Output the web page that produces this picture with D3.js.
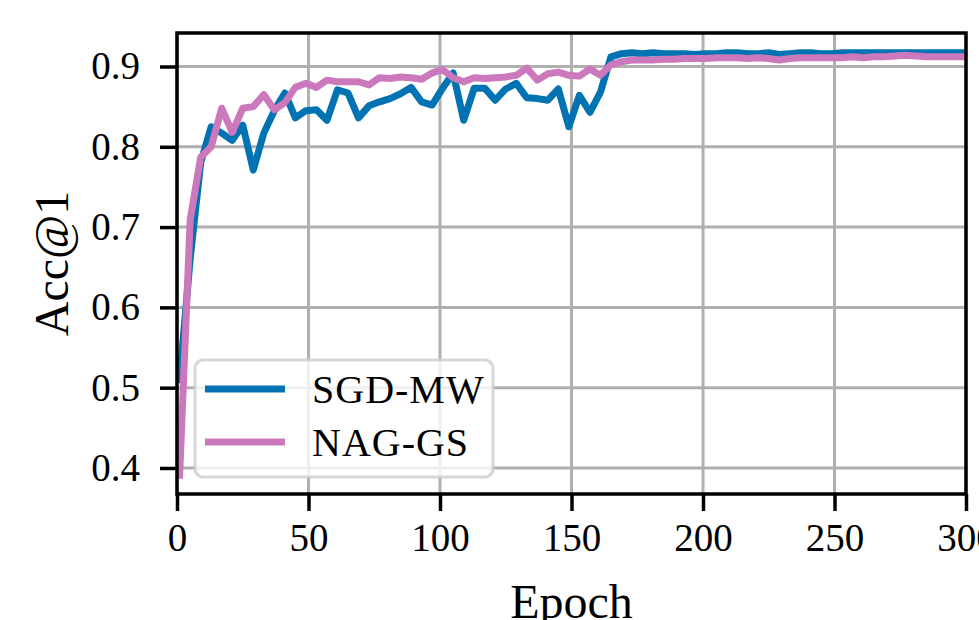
<!DOCTYPE html>
<html>
  <head>
    <meta charset="utf-8" />
    <title>Acc@1 vs Epoch</title>
    <style>
      body { margin: 0; background: #fff; }
      svg { display: block; }
      text { font-family: "Liberation Serif", "DejaVu Serif", serif; fill: #000; }
    </style>
  </head>
  <body>
    <svg width="979" height="620"></svg>

    <script type="text/javascript" src="https://d3js.org/d3.v7.min.js"></script>
    <script type="text/javascript">
      // epochs sampled every 4
      const epochs = [1, 5, 9, 13, 17, 21, 25, 29, 33, 37, 41, 45, 49, 53, 57, 61, 65, 69, 73, 77,
        81, 85, 89, 93, 97, 101, 105, 109, 113, 117, 121, 125, 129, 133, 137, 141, 145, 149, 153, 157,
        161, 165, 169, 173, 177, 181, 185, 189, 193, 197, 201, 205, 209, 213, 217, 221, 225, 229, 233, 237,
        241, 245, 249, 253, 257, 261, 265, 269, 273, 277, 281, 285, 289, 293, 297, 301];

      const sgdMW = [0.51, 0.66, 0.78, 0.825, 0.817, 0.808, 0.827, 0.771, 0.817, 0.845,
        0.867, 0.836, 0.845, 0.846, 0.833, 0.871, 0.867, 0.836, 0.851, 0.856,
        0.86, 0.866, 0.874, 0.856, 0.852, 0.873, 0.892, 0.833, 0.873, 0.873,
        0.858, 0.872, 0.879, 0.861, 0.86, 0.858, 0.872, 0.825, 0.864, 0.843,
        0.868, 0.912, 0.916, 0.917, 0.916, 0.917, 0.916, 0.916, 0.916, 0.915,
        0.916, 0.916, 0.917, 0.917, 0.916, 0.916, 0.917, 0.915, 0.916, 0.917,
        0.917, 0.916, 0.916, 0.917, 0.917, 0.917, 0.917, 0.917, 0.917, 0.917,
        0.917, 0.917, 0.917, 0.917, 0.917, 0.917];

      const nagGS = [0.391, 0.709, 0.787, 0.8, 0.848, 0.818, 0.848, 0.85, 0.865, 0.846,
        0.855, 0.874, 0.879, 0.874, 0.883, 0.881, 0.881, 0.881, 0.877, 0.886,
        0.885, 0.887, 0.886, 0.884, 0.892, 0.896, 0.886, 0.881, 0.886, 0.885,
        0.886, 0.887, 0.889, 0.898, 0.883, 0.891, 0.893, 0.889, 0.888, 0.897,
        0.889, 0.902, 0.906, 0.908, 0.908, 0.908, 0.909, 0.909, 0.91, 0.91,
        0.91, 0.911, 0.911, 0.911, 0.91, 0.911, 0.91, 0.908, 0.91, 0.911,
        0.911, 0.911, 0.911, 0.911, 0.912, 0.911, 0.912, 0.912, 0.913, 0.914,
        0.913, 0.912, 0.912, 0.912, 0.912, 0.912];

      const xTicks = [0, 50, 100, 150, 200, 250, 300];
      const yTicks = [0.4, 0.5, 0.6, 0.7, 0.8, 0.9];
      const seriesNames = ["SGD-MW", "NAG-GS"];
      const seriesColors = ["#0173b2", "#cc78bc"];

      const svg = d3.select("svg");
      const plotL = 177, plotR = 966, plotT = 33, plotB = 494;

      const x = d3.scaleLinear().domain([0, 300]).range([plotL, plotR]);
      const y = d3.scaleLinear().domain([0.3676, 0.9417]).range([plotB, plotT]);

      svg.append("defs").append("clipPath").attr("id", "plot-clip")
        .append("rect")
        .attr("x", plotL).attr("y", plotT)
        .attr("width", plotR - plotL).attr("height", plotB - plotT);

      // grid
      const grid = svg.append("g");
      grid.selectAll(".gx").data(xTicks).enter().append("line")
        .attr("x1", d => x(d)).attr("x2", d => x(d))
        .attr("y1", plotT).attr("y2", plotB)
        .attr("stroke", "#b0b0b0").attr("stroke-width", 3);
      grid.selectAll(".gy").data(yTicks).enter().append("line")
        .attr("x1", plotL).attr("x2", plotR)
        .attr("y1", d => y(d)).attr("y2", d => y(d))
        .attr("stroke", "#b0b0b0").attr("stroke-width", 3);

      // lines
      const line = d3.line().x(d => x(d[0])).y(d => y(d[1]));
      const plot = svg.append("g").attr("clip-path", "url(#plot-clip)");
      [sgdMW, nagGS].forEach((vals, i) => {
        plot.append("path")
          .datum(epochs.map((e, j) => [e, vals[j]]))
          .attr("d", line)
          .attr("fill", "none")
          .attr("stroke", seriesColors[i])
          .attr("stroke-width", 7)
          .attr("stroke-linejoin", "round")
          .attr("stroke-linecap", "square");
      });

      // axes
      const xAxis = svg.append("g")
        .attr("transform", "translate(0," + plotB + ")")
        .call(d3.axisBottom(x).tickValues(xTicks).tickFormat(d3.format("d"))
          .tickSizeInner(17).tickSizeOuter(0).tickPadding(12));
      const yAxis = svg.append("g")
        .attr("transform", "translate(" + plotL + ",0)")
        .call(d3.axisLeft(y).tickValues(yTicks).tickFormat(d3.format(".1f"))
          .tickSizeInner(17).tickSizeOuter(0).tickPadding(20));
      [xAxis, yAxis].forEach(a => {
        a.select(".domain").remove();
        a.selectAll(".tick line").attr("stroke", "#000").attr("stroke-width", 3.5);
        a.selectAll(".tick text").attr("font-size", 39)
          .attr("font-family", "Liberation Serif, DejaVu Serif, serif");
      });

      // spines
      svg.append("rect")
        .attr("x", plotL).attr("y", plotT)
        .attr("width", plotR - plotL).attr("height", plotB - plotT)
        .attr("fill", "none").attr("stroke", "#000").attr("stroke-width", 3.5);

      // axis labels
      svg.append("text")
        .attr("x", (plotL + plotR) / 2).attr("y", 618)
        .attr("text-anchor", "middle").attr("font-size", 48)
        .text("Epoch");
      svg.append("text")
        .attr("transform", "translate(68," + (plotT + plotB) / 2 + ") rotate(-90)")
        .attr("text-anchor", "middle").attr("font-size", 48)
        .text("Acc@1");

      // legend
      const legend = svg.append("g");
      legend.append("rect")
        .attr("x", 195).attr("y", 360).attr("width", 298).attr("height", 117)
        .attr("rx", 8)
        .attr("fill", "#fff").attr("fill-opacity", 0.8)
        .attr("stroke", "#cccccc").attr("stroke-opacity", 0.8).attr("stroke-width", 3);
      seriesNames.forEach((name, i) => {
        const cy = 389 + i * 53;
        legend.append("line")
          .attr("x1", 205).attr("x2", 285).attr("y1", cy).attr("y2", cy)
          .attr("stroke", seriesColors[i]).attr("stroke-width", 7);
        legend.append("text")
          .attr("x", 312).attr("y", cy + 14)
          .attr("font-size", 40)
          .attr("letter-spacing", 1)
          .text(name);
      });
    </script>
  </body>
</html>
